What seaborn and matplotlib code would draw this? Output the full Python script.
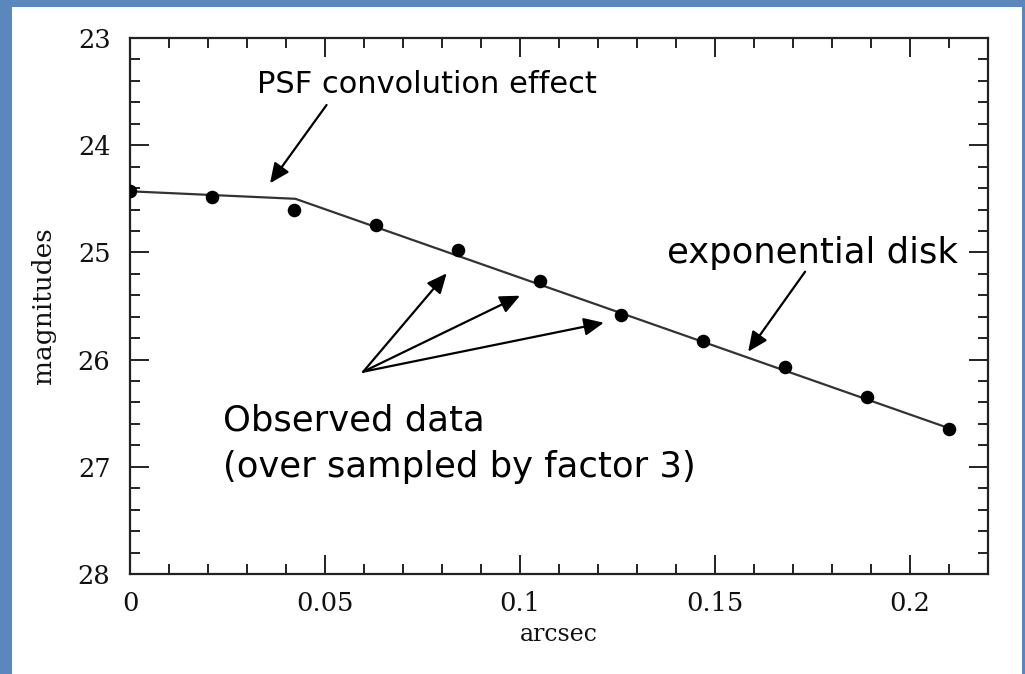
import matplotlib
matplotlib.use("Agg")
import matplotlib.pyplot as plt
from matplotlib.patches import Rectangle
from matplotlib.ticker import MultipleLocator, FixedLocator
import seaborn as sns
import pandas as pd

# ---- data ----
obs_x = [0.0, 0.021, 0.042, 0.063, 0.084, 0.105, 0.126, 0.147, 0.168, 0.189, 0.210]
obs_mag = [24.43, 24.48, 24.60, 24.74, 24.98, 25.27, 25.58, 25.83, 26.07, 26.35, 26.65]
model_x = [0.0, 0.0424, 0.210]
model_mag = [24.43, 24.50, 26.64]
x_ticks = [0, 0.05, 0.1, 0.15, 0.2]
x_tick_labels = ["0", "0.05", "0.1", "0.15", "0.2"]
y_ticks = [23, 24, 25, 26, 27, 28]
y_tick_labels = ["23", "24", "25", "26", "27", "28"]

obs = pd.DataFrame({"arcsec": obs_x, "mag": obs_mag})
model = pd.DataFrame({"arcsec": model_x, "mag": model_mag})

sns.set_theme(style="white")
plt.rcParams["font.family"] = ["DejaVu Sans"]

W, H = 1025, 674
fig = plt.figure(figsize=(W / 100, H / 100), dpi=100)
fig.patch.set_facecolor("#5b87bd")
fig.patches.append(Rectangle((12 / W, 0), (1022 - 12) / W, (H - 7) / H,
                             transform=fig.transFigure, facecolor="white",
                             edgecolor="none", zorder=-10))

ax = fig.add_axes([130 / W, 1 - 574 / H, (988 - 130) / W, (574 - 38) / H])
ax.set_zorder(5)
ax.set_facecolor("white")

sns.lineplot(data=model, x="arcsec", y="mag", ax=ax, color="#333333",
             linewidth=1.6, sort=False)
sns.scatterplot(data=obs, x="arcsec", y="mag", ax=ax, color="black",
                s=95, edgecolor="black", linewidth=0, zorder=3)

ax.set_xlim(0, 0.22)
ax.set_ylim(28, 23)

ax.xaxis.set_major_locator(FixedLocator(x_ticks))
ax.set_xticklabels(x_tick_labels)
ax.yaxis.set_major_locator(FixedLocator(y_ticks))
ax.set_yticklabels(y_tick_labels)
ax.xaxis.set_minor_locator(MultipleLocator(0.01))
ax.yaxis.set_minor_locator(MultipleLocator(0.2))

for s in ax.spines.values():
    s.set_visible(True)
    s.set_color("#222222")
    s.set_linewidth(1.6)

ax.tick_params(which="both", direction="in", top=True, right=True,
               bottom=True, left=True, color="#222222", width=1.4)
ax.tick_params(which="major", length=14)
ax.tick_params(which="minor", length=7.5)
ax.tick_params(axis="y", which="major", pad=14)
ax.tick_params(axis="x", which="major", pad=12)
for lbl in ax.get_xticklabels() + ax.get_yticklabels():
    lbl.set_fontfamily("DejaVu Serif")
    lbl.set_fontsize(18.5)
    lbl.set_color("#111111")

ax.set_xlabel("arcsec", family="DejaVu Serif", fontsize=17, labelpad=5,
              color="#111111")
ax.set_ylabel("magnitudes", family="DejaVu Serif", fontsize=19, labelpad=16,
              color="#111111")

arrow = dict(arrowstyle="-|>,head_length=1.0,head_width=0.45", color="black",
             lw=1.6, shrinkA=0, shrinkB=0)

ax.text(0.0762, 23.51, "PSF convolution effect", ha="center", va="baseline",
        fontsize=22, color="black")
ax.annotate("", xy=(0.0359, 24.355), xytext=(0.0504, 23.625), arrowprops=arrow)

ax.text(0.1376, 25.102, "exponential disk", ha="left", va="baseline",
        fontsize=25.5, color="black")
ax.annotate("", xy=(0.1585, 25.926), xytext=(0.1731, 25.18), arrowprops=arrow)

for tx, ty in [(0.0812, 25.195), (0.1000, 25.404), (0.1215, 25.656)]:
    ax.annotate("", xy=(tx, ty), xytext=(0.0598, 26.113), arrowprops=arrow)
ax.text(0.0238, 26.663, "Observed data", ha="left", va="baseline",
        fontsize=25.5, color="black")
ax.text(0.0238, 27.095, "(over sampled by factor 3)", ha="left",
        va="baseline", fontsize=25.5, color="black")

fig.savefig("out.png", dpi=100, facecolor=fig.get_facecolor())
